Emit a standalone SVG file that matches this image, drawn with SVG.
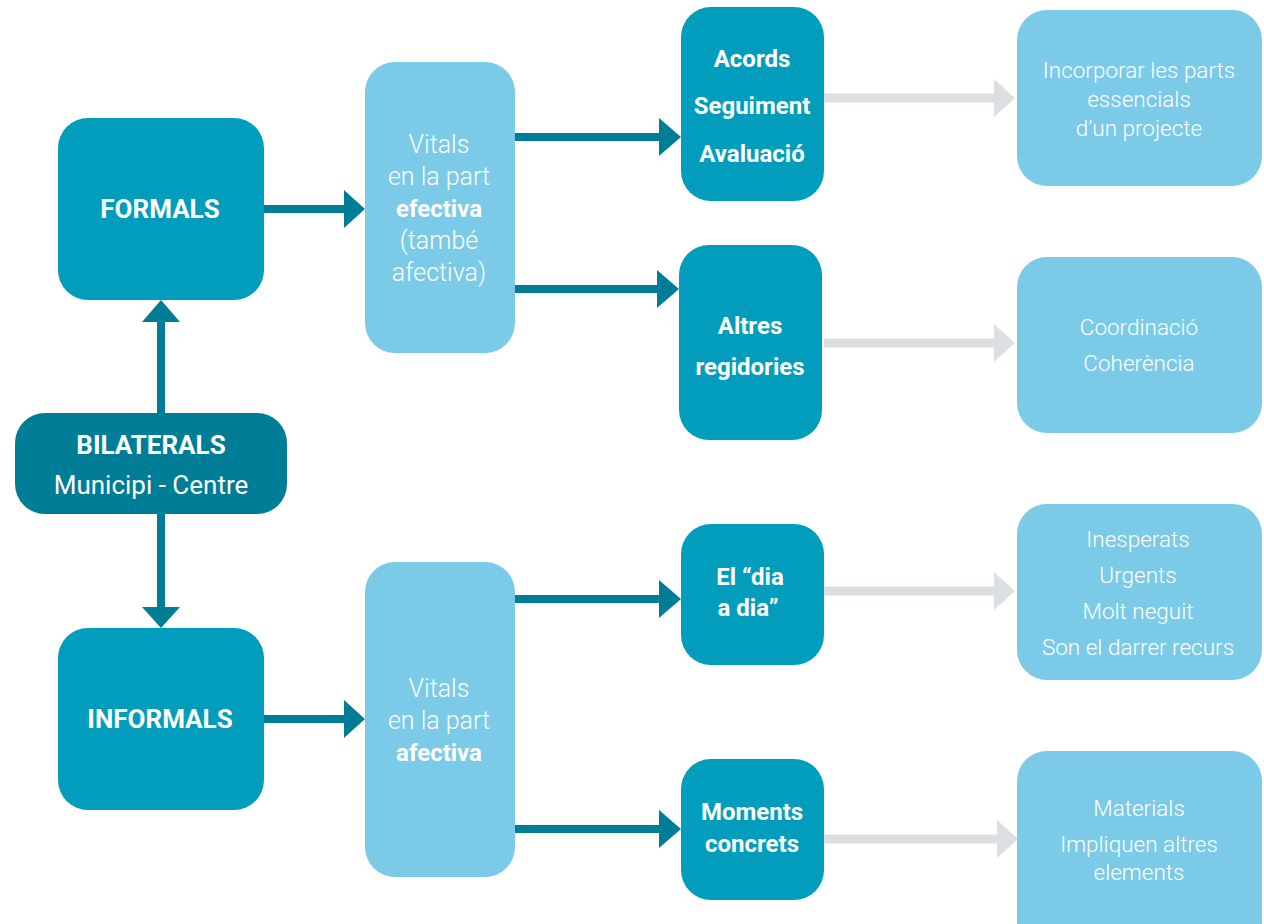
<svg xmlns="http://www.w3.org/2000/svg" width="1264" height="924" viewBox="0 0 1264 924">
  <style>
    .dark { fill: #007D96; }
    .mid { fill: #029DBC; }
    .light { fill: #7BCAE8; }
    text { font-family: Roboto, "Liberation Sans", sans-serif; fill: #FFFFFF; text-anchor: middle; }
    .b26 { font-size: 26px; font-weight: 700; }
    .r26 { font-size: 26px; font-weight: 400; }
    .b24 { font-size: 24px; font-weight: 700; }
    .v-r { font-size: 25px; font-weight: 300; }
    .v-b { font-size: 24px; font-weight: 700; }
    .r22 { font-size: 22.5px; font-weight: 300; }
    .line { stroke: #007D96; stroke-width: 8; fill: none; }
    .gline { stroke: #DCDFE2; stroke-width: 9; fill: none; }
    .head { fill: #007D96; }
    .ghead { fill: #DCDFE2; }
  </style>

  <!-- connectors -->
  <g id="connectors">
    <!-- BILATERALS to FORMALS / INFORMALS -->
    <line class="line" x1="161" y1="413" x2="161" y2="320"/>
    <polygon class="head" points="161,300 142,322 180,322"/>
    <line class="line" x1="161" y1="514" x2="161" y2="610"/>
    <polygon class="head" points="161,628 142,607 180,607"/>
    <!-- FORMALS / INFORMALS to Vitals -->
    <line class="line" x1="264" y1="209" x2="346" y2="209"/>
    <polygon class="head" points="365,209 344,190 344,228"/>
    <line class="line" x1="264" y1="719" x2="346" y2="719"/>
    <polygon class="head" points="365,719 344,700 344,738"/>
    <!-- Vitals to second column -->
    <line class="line" x1="515" y1="137" x2="662" y2="137"/>
    <polygon class="head" points="681,137 659,118 659,156"/>
    <line class="line" x1="513" y1="289" x2="660" y2="289"/>
    <polygon class="head" points="679,289 657,270 657,308"/>
    <line class="line" x1="515" y1="599" x2="662" y2="599"/>
    <polygon class="head" points="681,599 659,580 659,618"/>
    <line class="line" x1="513" y1="829" x2="662" y2="829"/>
    <polygon class="head" points="681,829 659,810 659,848"/>
    <!-- second column to right column -->
    <line class="gline" x1="824" y1="98" x2="996" y2="98"/>
    <polygon class="ghead" points="1015,98 994,79 994,117"/>
    <line class="gline" x1="824" y1="343" x2="996" y2="343"/>
    <polygon class="ghead" points="1015,343 994,324 994,362"/>
    <line class="gline" x1="824" y1="591" x2="996" y2="591"/>
    <polygon class="ghead" points="1015,591 994,572 994,610"/>
    <line class="gline" x1="824" y1="839" x2="999" y2="839"/>
    <polygon class="ghead" points="1018,839 997,820 997,858"/>
  </g>

  <g id="bilaterals">
    <rect class="dark" x="15" y="413" width="272" height="101" rx="30"/>
    <text class="b26" x="151" y="454">BILATERALS</text>
    <text class="r26" x="151" y="494">Municipi - Centre</text>
  </g>

  <g id="formals">
    <rect class="mid" x="58" y="118" width="206" height="182" rx="30"/>
    <text class="b26" x="160" y="218">FORMALS</text>
  </g>

  <g id="informals">
    <rect class="mid" x="58" y="628" width="206" height="182" rx="30"/>
    <text class="b26" x="160" y="728">INFORMALS</text>
  </g>

  <g id="vitals-formals">
    <rect class="light" x="365" y="62" width="150" height="291" rx="30"/>
    <text class="v-r" x="439" y="153">Vitals</text>
    <text class="v-r" x="439" y="185">en la part</text>
    <text class="v-b" x="439" y="217">efectiva</text>
    <text class="v-r" x="439" y="249">(també</text>
    <text class="v-r" x="439" y="281">afectiva)</text>
  </g>

  <g id="vitals-informals">
    <rect class="light" x="365" y="562" width="150" height="315" rx="30"/>
    <text class="v-r" x="439" y="697">Vitals</text>
    <text class="v-r" x="439" y="729">en la part</text>
    <text class="v-b" x="439" y="761">afectiva</text>
  </g>

  <g id="acords">
    <rect class="mid" x="681" y="7" width="143" height="194" rx="30"/>
    <text class="b24" x="752" y="67">Acords</text>
    <text class="b24" x="752" y="114">Seguiment</text>
    <text class="b24" x="752" y="162">Avaluació</text>
  </g>

  <g id="altres-regidories">
    <rect class="mid" x="679" y="245" width="143" height="195" rx="30"/>
    <text class="b24" x="750" y="334">Altres</text>
    <text class="b24" x="750" y="375">regidories</text>
  </g>

  <g id="dia-a-dia">
    <rect class="mid" x="681" y="524" width="143" height="141" rx="30"/>
    <text class="b24" x="750" y="585">El “dia</text>
    <text class="b24" x="748" y="616">a dia”</text>
  </g>

  <g id="moments-concrets">
    <rect class="mid" x="681" y="759" width="143" height="141" rx="30"/>
    <text class="b24" x="752" y="820">Moments</text>
    <text class="b24" x="752" y="852">concrets</text>
  </g>

  <g id="incorporar">
    <rect class="light" x="1017" y="10" width="245" height="176" rx="30"/>
    <text class="r22" x="1139" y="78">Incorporar les parts</text>
    <text class="r22" x="1139" y="107">essencials</text>
    <text class="r22" x="1139" y="136">d’un projecte</text>
  </g>

  <g id="coordinacio">
    <rect class="light" x="1017" y="257" width="245" height="176" rx="30"/>
    <text class="r22" x="1139" y="335">Coordinació</text>
    <text class="r22" x="1139" y="371">Coherència</text>
  </g>

  <g id="inesperats">
    <rect class="light" x="1017" y="504" width="245" height="176" rx="30"/>
    <text class="r22" x="1138" y="547">Inesperats</text>
    <text class="r22" x="1138" y="583">Urgents</text>
    <text class="r22" x="1138" y="619">Molt neguit</text>
    <text class="r22" x="1138" y="655">Son el darrer recurs</text>
  </g>

  <g id="materials">
    <rect class="light" x="1017" y="751" width="245" height="200" rx="30"/>
    <text class="r22" x="1139" y="816">Materials</text>
    <text class="r22" x="1139" y="852">Impliquen altres</text>
    <text class="r22" x="1139" y="880">elements</text>
  </g>
</svg>
